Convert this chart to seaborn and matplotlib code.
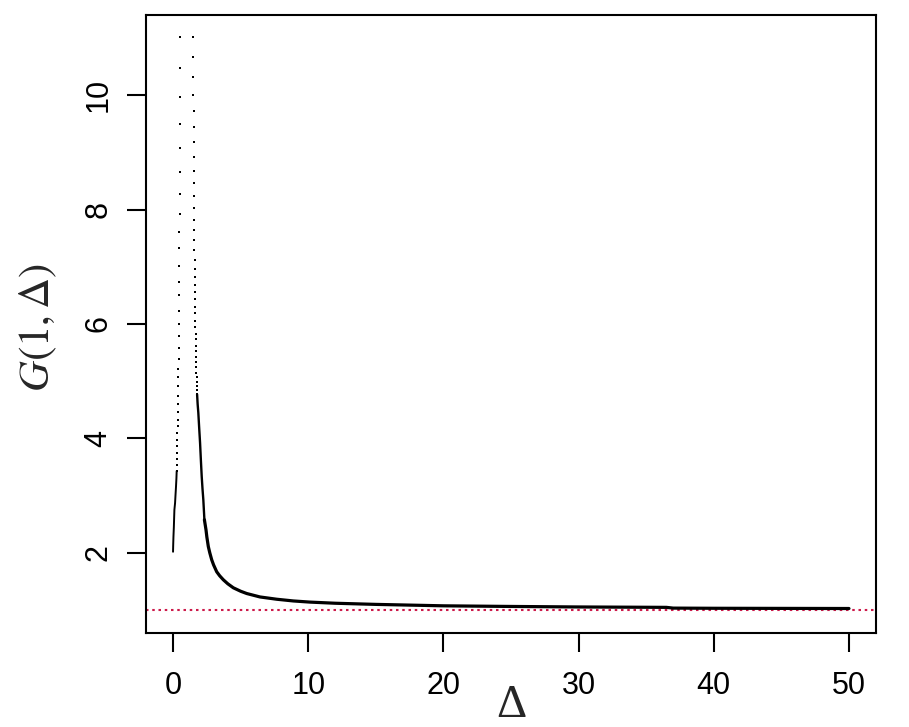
import matplotlib
matplotlib.use('Agg')
import matplotlib.pyplot as plt
import pandas as pd
import seaborn as sns

# values
# sparse dots on the left branch (Delta < 1), top to bottom
left_dots_delta = [0.52, 0.52, 0.51, 0.51, 0.50, 0.49, 0.49, 0.48, 0.47, 0.47,
                   0.46, 0.45, 0.44, 0.44, 0.43, 0.42, 0.42, 0.41, 0.40, 0.40,
                   0.39, 0.38, 0.37, 0.36, 0.35, 0.34, 0.33, 0.32, 0.31, 0.30,
                   0.29, 0.28, 0.27]
left_dots_g = [11.01, 10.47, 9.96, 9.49, 9.07, 8.65, 8.28, 7.93, 7.61, 7.32,
               7.02, 6.73, 6.50, 6.23, 6.00, 5.79, 5.58, 5.39, 5.21, 5.07,
               4.91, 4.75, 4.60, 4.46, 4.33, 4.21, 4.09, 3.97, 3.86, 3.75,
               3.64, 3.54, 3.43]
# dense part of the left branch
left_line_delta = [0.27, 0.25, 0.22, 0.18, 0.15, 0.12, 0.10, 0.06, 0.03, 0.01, 0.0]
left_line_g = [3.43, 3.30, 3.16, 3.00, 2.87, 2.80, 2.75, 2.45, 2.28, 2.12, 2.02]

# sparse dots on the right branch (Delta > 1), top to bottom
right_dots_delta = [1.50, 1.50, 1.51, 1.51, 1.52, 1.52, 1.53, 1.53, 1.54, 1.54,
                    1.55, 1.56, 1.56, 1.57, 1.58, 1.58, 1.59, 1.60, 1.60, 1.61,
                    1.62, 1.62, 1.63, 1.64, 1.65, 1.66, 1.67, 1.67, 1.68, 1.69,
                    1.70, 1.71, 1.72, 1.73, 1.74, 1.75, 1.76, 1.77, 1.78]
right_dots_g = [11.01, 10.66, 10.31, 10.00, 9.72, 9.45, 9.18, 8.91, 8.67, 8.46,
                8.23, 8.02, 7.82, 7.64, 7.46, 7.29, 7.12, 6.96, 6.82, 6.68,
                6.56, 6.44, 6.30, 6.19, 6.06, 5.95, 5.83, 5.73, 5.62, 5.52,
                5.42, 5.33, 5.24, 5.15, 5.07, 4.99, 4.91, 4.84, 4.77]
# steep, thinner part of the right branch
right_steep_delta = [1.78, 1.82, 1.87, 1.93, 2.00, 2.06, 2.12, 2.18, 2.24, 2.32]
right_steep_g = [4.77, 4.60, 4.45, 4.20, 3.92, 3.62, 3.34, 3.12, 2.93, 2.58]
# solid part of the right branch, running out to Delta = 50
right_line_delta = [2.32, 2.44, 2.50, 2.61, 2.72, 2.86, 3.00, 3.23, 3.45, 3.72,
                    4.05, 4.46, 5.00, 5.45, 6.43, 7.67, 8.90, 10.13, 12.0, 15.0,
                    18.0, 20.0, 24.5, 30.0, 36.5, 37.0, 40.0, 45.0, 50.0]
right_line_g = [2.58, 2.40, 2.28, 2.11, 2.00, 1.88, 1.79, 1.67, 1.60, 1.53,
                1.46, 1.39, 1.33, 1.29, 1.23, 1.19, 1.16, 1.14, 1.12, 1.10,
                1.085, 1.075, 1.065, 1.055, 1.048, 1.035, 1.032, 1.03, 1.028]

x_ticks = [0, 10, 20, 30, 40, 50]
y_ticks = [2, 4, 6, 8, 10]
ref_level = 1.0

sns.set_theme(style='white')
plt.rcParams['font.family'] = ['Liberation Sans', 'DejaVu Sans']
plt.rcParams['mathtext.fontset'] = 'stix'

fig = plt.figure(figsize=(9.09, 7.27), dpi=100)
ax = fig.add_axes([146 / 909, 94 / 727, 730 / 909, 618 / 727])

# reference line G = 1
ax.axhline(ref_level, color='#cc1a4a', lw=1.5, dashes=(1.2, 1.8), zorder=1)

dots = pd.DataFrame({'delta': left_dots_delta + right_dots_delta,
                     'g': left_dots_g + right_dots_g})
sns.scatterplot(data=dots, x='delta', y='g', ax=ax, color='black',
                marker='s', s=3, linewidth=0, zorder=3)

left = pd.DataFrame({'delta': left_line_delta, 'g': left_line_g})
steep = pd.DataFrame({'delta': right_steep_delta, 'g': right_steep_g})
right = pd.DataFrame({'delta': right_line_delta, 'g': right_line_g})
sns.lineplot(data=left, x='delta', y='g', ax=ax, color='black', lw=1.4,
             sort=False, estimator=None, zorder=3)
sns.lineplot(data=steep, x='delta', y='g', ax=ax, color='black', lw=1.7,
             sort=False, estimator=None, zorder=3)
sns.lineplot(data=right, x='delta', y='g', ax=ax, color='black', lw=2.3,
             sort=False, estimator=None, zorder=3)

ax.set_xlim(-2, 52)
ax.set_ylim(0.6, 11.4)
ax.set_xticks(x_ticks)
ax.set_yticks(y_ticks)

for side in ax.spines.values():
    side.set_color('black')
    side.set_linewidth(1.5)

ax.tick_params(bottom=True, left=True, direction='out', length=13.5, width=1.5,
               color='black', labelsize=22, labelcolor='black')
ax.tick_params(axis='x', pad=14)
ax.tick_params(axis='y', pad=10)
for lab in ax.get_yticklabels():
    lab.set_rotation(90)
    lab.set_va('center')

ax.set_xlabel('Δ', family='Liberation Serif', fontsize=34, va='center')
ax.xaxis.set_label_coords(0.5, -0.118)
ax.set_ylabel(r'$G(1,\Delta)$', fontsize=31, va='center')
ax.yaxis.set_label_coords(-0.148, 0.495)

plt.savefig('out.png', dpi=100)
plt.close()
